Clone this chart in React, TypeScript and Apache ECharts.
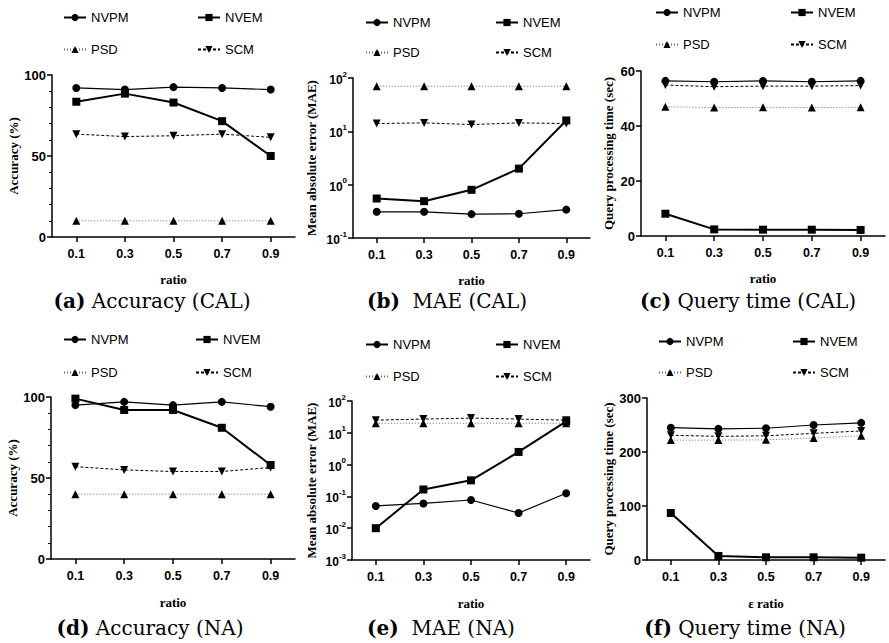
import React, { useEffect, useRef } from "react";
import * as echarts from "echarts";

const ratios = ["0.1", "0.3", "0.5", "0.7", "0.9"];
const seriesNames = ["NVPM", "NVEM", "PSD", "SCM"];

// (a) Accuracy (CAL)
const accCalNVPM = [92, 91, 92.5, 92, 91];
const accCalNVEM = [83.5, 88.5, 83, 71.5, 50];
const accCalPSD = [10, 10, 10, 10, 10];
const accCalSCM = [63.5, 62, 62.5, 63.5, 61.5];
// (b) MAE (CAL)
const maeCalNVPM = [0.31, 0.31, 0.28, 0.285, 0.34];
const maeCalNVEM = [0.55, 0.49, 0.8, 2.0, 16];
const maeCalPSD = [70, 70, 70, 70, 70];
const maeCalSCM = [14, 14.4, 13.4, 14.4, 14];
// (c) Query time (CAL)
const timeCalNVPM = [56.4, 56.1, 56.4, 56.1, 56.4];
const timeCalNVEM = [8.1, 2.4, 2.3, 2.3, 2.2];
const timeCalPSD = [47, 46.7, 46.8, 46.7, 46.8];
const timeCalSCM = [54.9, 54.3, 54.5, 54.5, 54.7];
// (d) Accuracy (NA)
const accNaNVPM = [95, 97, 95, 97, 94];
const accNaNVEM = [99, 92, 92, 81, 58];
const accNaPSD = [40, 40, 40, 40, 40];
const accNaSCM = [57, 55, 54, 54, 56.5];
// (e) MAE (NA)
const maeNaNVPM = [0.05, 0.06, 0.077, 0.03, 0.125];
const maeNaNVEM = [0.01, 0.165, 0.32, 2.5, 23];
const maeNaPSD = [20, 20, 20, 20, 20];
const maeNaSCM = [25, 27, 29, 27, 25];
// (f) Query time (NA)
const timeNaNVPM = [245, 243, 244, 250, 254];
const timeNaNVEM = [87, 7.5, 5, 5, 4.3];
const timeNaPSD = [222, 222, 222.5, 226, 230];
const timeNaSCM = [231, 229, 230, 234.5, 239];

const panelData = [
  [accCalNVPM, accCalNVEM, accCalPSD, accCalSCM],
  [maeCalNVPM, maeCalNVEM, maeCalPSD, maeCalSCM],
  [timeCalNVPM, timeCalNVEM, timeCalPSD, timeCalSCM],
  [accNaNVPM, accNaNVEM, accNaPSD, accNaSCM],
  [maeNaNVPM, maeNaNVEM, maeNaPSD, maeNaSCM],
  [timeNaNVPM, timeNaNVEM, timeNaPSD, timeNaSCM],
];

const yNames = [
  "Accuracy (%)",
  "Mean absolute error (MAE)",
  "Query processing time (sec)",
  "Accuracy (%)",
  "Mean absolute error (MAE)",
  "Query processing time (sec)",
];
const xNames = ["ratio", "ratio", "ratio", "ratio", "ratio", "ε ratio"];
const captionTags = ["(a)", "(b)", "(c)", "(d)", "(e)", "(f)"];
const captionTexts = [
  " Accuracy (CAL)",
  "  MAE (CAL)",
  " Query time (CAL)",
  " Accuracy (NA)",
  "  MAE (NA)",
  " Query time (NA)",
];

// layout
const grids = [
  { left: 52, top: 75, width: 243, height: 162 },
  { left: 353, top: 78, width: 237, height: 160 },
  { left: 641, top: 71, width: 244, height: 165 },
  { left: 51, top: 397, width: 244, height: 162 },
  { left: 352, top: 401, width: 238, height: 159 },
  { left: 647, top: 398, width: 238, height: 162 },
];
const yNameGaps = [32, 35, 26, 31, 34, 32];
const xNameGaps = [36, 36, 36, 37, 37, 37];
const legendPos = [
  { c1: 63, c2: 197, r1: 18, r2: 50 },
  { c1: 365, c2: 495, r1: 23, r2: 53 },
  { c1: 655, c2: 790, r1: 13, r2: 45 },
  { c1: 63, c2: 195, r1: 340, r2: 373 },
  { c1: 365, c2: 495, r1: 345, r2: 377 },
  { c1: 658, c2: 792, r1: 342, r2: 373 },
];
const captionPos = [
  { x: 152, y: 301 },
  { x: 447, y: 301 },
  { x: 748, y: 301 },
  { x: 150, y: 628 },
  { x: 441, y: 628 },
  { x: 745, y: 628 },
];

const SANS = "'Liberation Sans', Arial, sans-serif";
const SERIF = "'Liberation Serif', 'Times New Roman', serif";
const CAPTION = "'DejaVu Serif', serif";

const seriesStyle = [
  { symbol: "circle", symbolSize: 8, rotate: 0, line: { color: "#000", width: 1.2, type: "solid" } },
  { symbol: "rect", symbolSize: 8, rotate: 0, line: { color: "#000", width: 2, type: "solid" } },
  { symbol: "triangle", symbolSize: 8, rotate: 0, line: { color: "#666", width: 1, type: [1, 2] } },
  { symbol: "triangle", symbolSize: 8, rotate: 180, line: { color: "#000", width: 1, type: [3, 2] } },
];

function supFormatter(v: number) {
  const e = Math.round(Math.log10(v));
  return `{b|10}{s|${e}}`;
}

function yAxisFor(i: number) {
  const common: any = {
    gridIndex: i,
    name: yNames[i],
    nameLocation: "middle",
    nameGap: yNameGaps[i],
    nameTextStyle: { fontFamily: SERIF, fontWeight: "bold", fontSize: 13, color: "#000" },
    axisLine: { show: true, lineStyle: { color: "#000", width: 1.5 } },
    axisTick: { show: true, length: 5, lineStyle: { color: "#000", width: 1.5 } },
    splitLine: { show: false },
    axisLabel: {
      margin: 6,
      fontFamily: SANS,
      fontWeight: "bold",
      fontSize: 13,
      color: "#000",
    },
  };
  const kind = i % 3;
  if (kind === 1) {
    return {
      ...common,
      type: "log",
      logBase: 10,
      min: i === 1 ? 0.1 : 0.001,
      max: 100,
      axisLabel: {
        ...common.axisLabel,
        formatter: supFormatter,
        rich: {
          b: { fontFamily: SANS, fontWeight: "bold", fontSize: 12, color: "#000", lineHeight: 16, verticalAlign: "bottom" },
          s: { fontFamily: SANS, fontWeight: "bold", fontSize: 8, color: "#000", lineHeight: 16, verticalAlign: "top" },
        },
      },
    };
  }
  if (kind === 0) {
    return {
      ...common,
      type: "value",
      min: 0,
      max: 100,
      interval: 50,
      minorTick: { show: true, splitNumber: 5, length: 3, lineStyle: { color: "#000", width: 1 } },
    };
  }
  return {
    ...common,
    type: "value",
    min: 0,
    max: i === 2 ? 60 : 300,
    interval: i === 2 ? 20 : 100,
  };
}

function xAxisFor(i: number) {
  return {
    gridIndex: i,
    type: "category",
    data: ratios,
    boundaryGap: true,
    name: xNames[i],
    nameLocation: "middle",
    nameGap: xNameGaps[i],
    nameTextStyle: { fontFamily: SERIF, fontWeight: "bold", fontSize: 13, color: "#000" },
    axisLine: { show: true, lineStyle: { color: "#000", width: 1.5 } },
    axisTick: { show: true, alignWithLabel: true, length: 5, lineStyle: { color: "#000", width: 1.5 } },
    axisLabel: { margin: 10, fontFamily: SANS, fontWeight: "bold", fontSize: 12.5, color: "#000" },
    splitLine: { show: false },
  };
}

export default function App() {
  const ref = useRef<HTMLDivElement>(null);
  useEffect(() => {
    if (!ref.current) return;
    const chart = echarts.init(ref.current, null, { renderer: "svg" });

    const series: any[] = [];
    panelData.forEach((panel, i) => {
      panel.forEach((values, k) => {
        const st = seriesStyle[k];
        series.push({
          type: "line",
          name: seriesNames[k],
          xAxisIndex: i,
          yAxisIndex: i,
          data: values,
          symbol: st.symbol,
          symbolSize: st.symbolSize,
          symbolRotate: st.rotate,
          showAllSymbol: true,
          itemStyle: { color: "#000", borderWidth: 0 },
          lineStyle: st.line,
          z: 10 - k,
        });
      });
    });

    const legends: any[] = [];
    legendPos.forEach((p) => {
      const spots = [
        { name: "NVPM", left: p.c1, y: p.r1 },
        { name: "NVEM", left: p.c2, y: p.r1 },
        { name: "PSD", left: p.c1, y: p.r2 },
        { name: "SCM", left: p.c2, y: p.r2 },
      ];
      spots.forEach((s) => {
        legends.push({
          data: [s.name],
          left: s.left,
          top: s.y - 7,
          padding: 0,
          itemWidth: 22,
          itemHeight: 9,
          selectedMode: false,
          textStyle: { fontFamily: SANS, fontSize: 13, color: "#000" },
        });
      });
    });

    const graphics: any[] = captionPos.map((p, i) => ({
      type: "text",
      x: p.x,
      y: p.y,
      style: {
        text: `{t|${captionTags[i]}}{r|${captionTexts[i]}}`,
        align: "center",
        verticalAlign: "middle",
        rich: {
          t: { fontFamily: CAPTION, fontWeight: "bold", fontSize: 20, fill: "#000" },
          r: { fontFamily: CAPTION, fontSize: 20, fill: "#000" },
        },
      },
    }));

    chart.setOption({
      animation: false,
      backgroundColor: "#fff",
      grid: grids.map((g) => ({ ...g, containLabel: false })),
      xAxis: grids.map((_, i) => xAxisFor(i)),
      yAxis: grids.map((_, i) => yAxisFor(i)),
      legend: legends,
      series,
      graphic: graphics,
    });
    return () => chart.dispose();
  }, []);
  return (
    <div
      ref={ref}
      style={{ position: "fixed", left: 0, top: 0, width: 889, height: 643, background: "#fff" }}
    />
  );
}
